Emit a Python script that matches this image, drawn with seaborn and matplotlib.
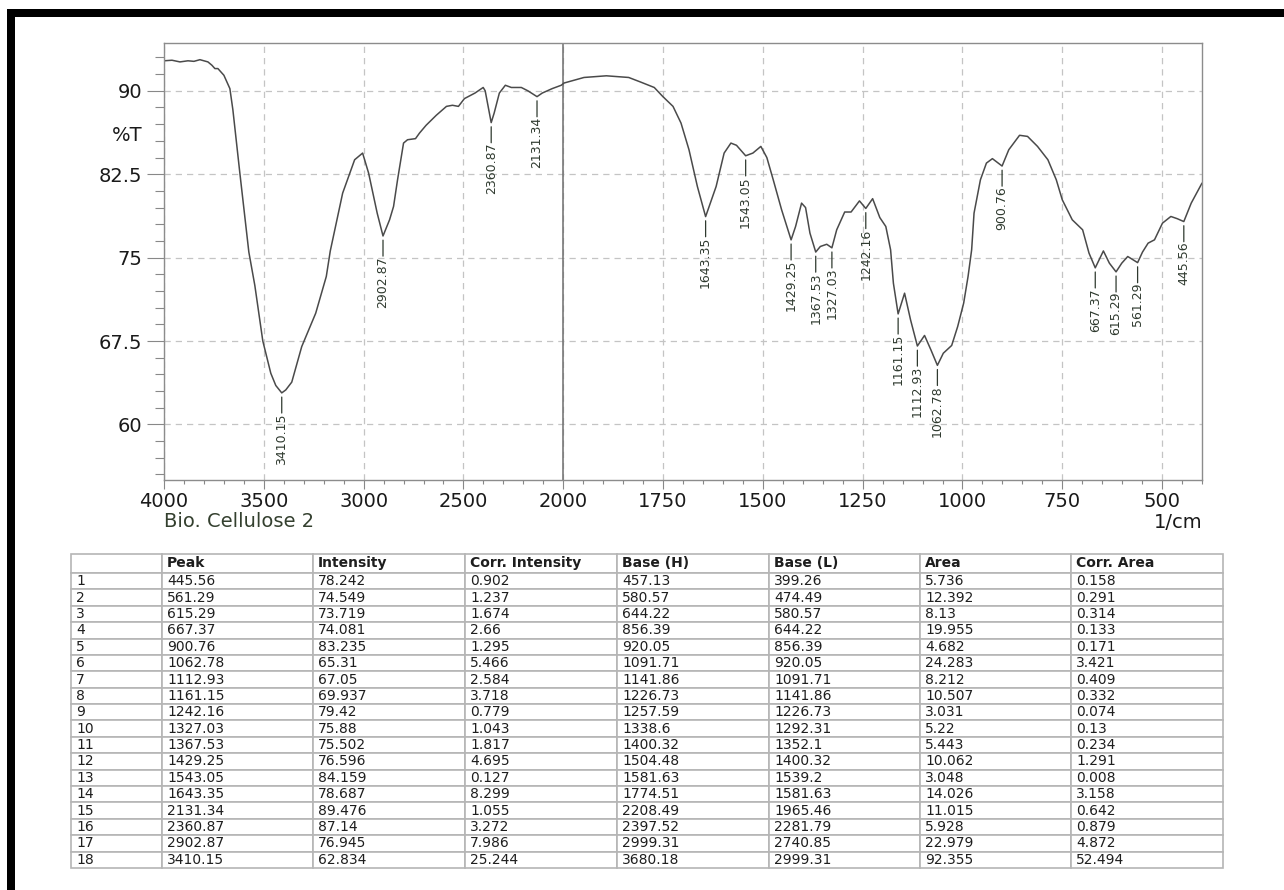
import numpy as np
import matplotlib
matplotlib.use('Agg')
import matplotlib.pyplot as plt
import matplotlib.ticker as mticker
from matplotlib.patches import Rectangle
from matplotlib.transforms import blended_transform_factory
import seaborn as sns

# spectrum trace (1/cm, %T)
wavenumber = [4000, 3960, 3920, 3880, 3850, 3820, 3800, 3780, 3760, 3745, 3730, 3715,
              3700, 3685, 3670, 3655, 3620, 3575, 3545, 3505, 3465, 3440, 3410.15, 3390,
              3360, 3310, 3270, 3240, 3187, 3167, 3105, 3045, 3005, 2975, 2932, 2902.87,
              2870, 2850, 2830, 2800, 2780, 2740, 2720, 2687, 2636, 2585, 2555, 2525,
              2495, 2442, 2401, 2391, 2360.87, 2346, 2320, 2290, 2260, 2210, 2177, 2131.34,
              2105, 2055, 2010, 1998, 1948, 1892, 1836, 1807, 1772, 1751, 1725, 1705,
              1685, 1664, 1643.35, 1617, 1597, 1580, 1566, 1543.05, 1525, 1505, 1490, 1474,
              1453, 1429.25, 1418, 1403, 1393, 1382, 1367.53, 1356, 1340, 1327.03, 1315, 1295,
              1279, 1258, 1242.16, 1225, 1207, 1192, 1180, 1173, 1161.15, 1145, 1130, 1112.93,
              1095, 1079, 1062.78, 1048, 1027, 1012, 997, 986, 977, 971, 955, 940,
              925, 900.76, 884, 857, 837, 812, 786, 765, 750, 725, 699, 683,
              667.37, 647, 632, 615.29, 601, 586, 561.29, 549, 535, 519, 499, 478,
              462, 445.56, 427, 400]
transmittance = [92.7, 92.75, 92.6, 92.7, 92.65, 92.8, 92.7, 92.6, 92.3, 92.0, 92.0, 91.7,
                 91.4, 90.8, 90.2, 88.3, 82.6, 75.5, 72.5, 67.5, 64.6, 63.5, 62.834, 63.1,
                 63.8, 67.0, 68.7, 70.0, 73.3, 75.6, 80.8, 83.8, 84.4, 82.6, 79.0, 76.945,
                 78.4, 79.6, 82.0, 85.3, 85.6, 85.7, 86.2, 86.9, 87.8, 88.6, 88.7, 88.6,
                 89.3, 89.8, 90.3, 90.0, 87.14, 88.0, 89.8, 90.5, 90.3, 90.3, 90.0, 89.476,
                 89.8, 90.2, 90.5, 90.7, 91.2, 91.35, 91.2, 90.8, 90.3, 89.5, 88.6, 87.1,
                 84.7, 81.4, 78.687, 81.4, 84.4, 85.3, 85.1, 84.159, 84.4, 85.0, 84.0, 82.0,
                 79.3, 76.596, 77.8, 79.9, 79.5, 77.2, 75.502, 76.0, 76.2, 75.88, 77.5, 79.1,
                 79.1, 80.1, 79.42, 80.3, 78.6, 77.8, 75.7, 72.7, 69.937, 71.8, 69.4, 67.05,
                 68.0, 66.7, 65.31, 66.4, 67.1, 68.8, 70.9, 73.3, 75.7, 79.0, 82.0, 83.5,
                 83.9, 83.235, 84.7, 86.0, 85.9, 85.0, 83.8, 82.0, 80.2, 78.4, 77.5, 75.4,
                 74.081, 75.6, 74.5, 73.719, 74.5, 75.1, 74.549, 75.5, 76.3, 76.6, 78.1, 78.7,
                 78.5, 78.242, 79.9, 81.7]

# peak table
peak = [445.56, 561.29, 615.29, 667.37, 900.76, 1062.78, 1112.93, 1161.15, 1242.16,
        1327.03, 1367.53, 1429.25, 1543.05, 1643.35, 2131.34, 2360.87, 2902.87, 3410.15]
intensity = [78.242, 74.549, 73.719, 74.081, 83.235, 65.31, 67.05, 69.937, 79.42,
             75.88, 75.502, 76.596, 84.159, 78.687, 89.476, 87.14, 76.945, 62.834]
corr_intensity = [0.902, 1.237, 1.674, 2.66, 1.295, 5.466, 2.584, 3.718, 0.779,
                  1.043, 1.817, 4.695, 0.127, 8.299, 1.055, 3.272, 7.986, 25.244]
base_h = [457.13, 580.57, 644.22, 856.39, 920.05, 1091.71, 1141.86, 1226.73, 1257.59,
          1338.6, 1400.32, 1504.48, 1581.63, 1774.51, 2208.49, 2397.52, 2999.31, 3680.18]
base_l = [399.26, 474.49, 580.57, 644.22, 856.39, 920.05, 1091.71, 1141.86, 1226.73,
          1292.31, 1352.1, 1400.32, 1539.2, 1581.63, 1965.46, 2281.79, 2740.85, 2999.31]
area = [5.736, 12.392, 8.13, 19.955, 4.682, 24.283, 8.212, 10.507, 3.031,
        5.22, 5.443, 10.062, 3.048, 14.026, 11.015, 5.928, 22.979, 92.355]
corr_area = [0.158, 0.291, 0.314, 0.133, 0.171, 3.421, 0.409, 0.332, 0.074,
             0.13, 0.234, 1.291, 0.008, 3.158, 0.642, 0.879, 4.872, 52.494]
col_labels = ['', 'Peak', 'Intensity', 'Corr. Intensity', 'Base (H)', 'Base (L)', 'Area', 'Corr. Area']

x_major = [4000, 3500, 3000, 2500, 2000, 1750, 1500, 1250, 1000, 750, 500]
y_major = [60, 67.5, 75, 82.5, 90]

sns.set_style('white')
plt.rcParams['font.family'] = ['DejaVu Sans']

W, H = 1284, 890
fig = plt.figure(figsize=(W / 100, H / 100), dpi=100)


# x axis is twice as compressed above 2000 1/cm
def fwd(x):
    x = np.asarray(x, dtype=float)
    return np.where(x > 2000, 2000 + (x - 2000) / 2, x)


def inv(u):
    u = np.asarray(u, dtype=float)
    return np.where(u > 2000, 2000 + (u - 2000) * 2, u)


ax = fig.add_axes([164 / W, 410 / H, 1038 / W, 437 / H])
ax.set_xscale('function', functions=(fwd, inv))
sns.lineplot(x=wavenumber, y=transmittance, sort=False, ax=ax, color='#4a4a4a', linewidth=1.1)
ax.set_xlim(4000, 400)
ax.set_ylim(55.0, 94.3)

ax.xaxis.set_major_locator(mticker.FixedLocator(x_major))
ax.xaxis.set_major_formatter(mticker.FixedFormatter([str(v) for v in x_major]))
ax.xaxis.set_minor_locator(mticker.FixedLocator(list(range(4000, 2000, -100)) + list(range(2000, 399, -50))))
ax.yaxis.set_major_locator(mticker.FixedLocator(y_major))
ax.yaxis.set_major_formatter(mticker.FuncFormatter(lambda v, p: f'{v:g}'))
ax.yaxis.set_minor_locator(mticker.MultipleLocator(1.5))

ax.tick_params(axis='x', which='major', length=6.5, width=0.8, color='#888888', direction='out',
               labelsize=14, labelcolor='#1a1a1a', pad=2, bottom=True)
ax.tick_params(axis='x', which='minor', length=3, width=0.8, color='#888888', direction='out', bottom=True)
ax.tick_params(axis='y', which='major', length=12, width=0.8, color='#888888', direction='out',
               labelsize=14, labelcolor='#1a1a1a', pad=3.5, left=True)
ax.tick_params(axis='y', which='minor', length=6.5, width=0.8, color='#888888', direction='out', left=True)

ax.grid(True, which='major', color='#c4c4c4', linestyle=(0, (5, 4)), linewidth=0.9)
ax.axvline(2000, color='#6e6e6e', linewidth=1.1, zorder=1)
for s in ax.spines.values():
    s.set_color('#8c8c8c')
    s.set_linewidth(1.0)
ax.set_xlabel('')
ax.set_ylabel('')

# peak labels hanging under each minimum, dash joined to the text
for p, t in zip(peak, intensity):
    ax.annotate(f'{p:.2f}', xy=(p, t), xytext=(0, -14.5), textcoords='offset points',
                rotation=90, ha='center', va='top', fontsize=9, color='#2f3a2f',
                arrowprops=dict(arrowstyle='-', color='#2f3a2f', lw=0.9, shrinkA=0, shrinkB=3,
                                patchA=None, relpos=(0.5, 1.0)))

blend = blended_transform_factory(ax.transAxes, ax.transData)
ax.text(-0.021, 86.0, '%T', transform=blend, ha='right', va='center', fontsize=14, color='#1a1a1a')
ax.text(0.0, -0.096, 'Bio. Cellulose 2', transform=ax.transAxes, ha='left', va='center',
        fontsize=14, color='#34402f')
ax.text(1.0, -0.098, '1/cm', transform=ax.transAxes, ha='right', va='center',
        fontsize=14, color='#1a1a1a')

# peak table
col_px = [91, 151, 152, 152, 152, 151, 151, 152]
rows = []
for i in range(len(peak)):
    rows.append([str(i + 1)] + [f'{v:g}' for v in (peak[i], intensity[i], corr_intensity[i],
                                                  base_h[i], base_l[i], area[i], corr_area[i])])

tax = fig.add_axes([71 / W, 22 / H, sum(col_px) / W, 314 / H])
tax.axis('off')
tbl = tax.table(cellText=rows, colLabels=col_labels, colWidths=[w / sum(col_px) for w in col_px],
                cellLoc='left', colLoc='left', bbox=[0, 0, 1, 1])
tbl.auto_set_font_size(False)
tbl.set_fontsize(10)
for (r, c), cell in tbl.get_celld().items():
    cell.set_height(19 if r == 0 else 16.4)
    cell.PAD = 5 / col_px[c]
    cell.set_edgecolor('#b5b5b5')
    cell.set_linewidth(1.2)
    cell.get_text().set_color('#1e1e1e')
    if r == 0:
        cell.get_text().set_fontweight('bold')

# black frame on top and left edge of the scan
fig.add_artist(Rectangle((7 / W, 0), 8 / W, (H - 9) / H, transform=fig.transFigure,
                         facecolor='black', edgecolor='none'))
fig.add_artist(Rectangle((7 / W, (H - 17) / H), (W - 7) / W, 8 / H, transform=fig.transFigure,
                         facecolor='black', edgecolor='none'))

fig.savefig('out.png', dpi=100, facecolor='white')
plt.close(fig)
